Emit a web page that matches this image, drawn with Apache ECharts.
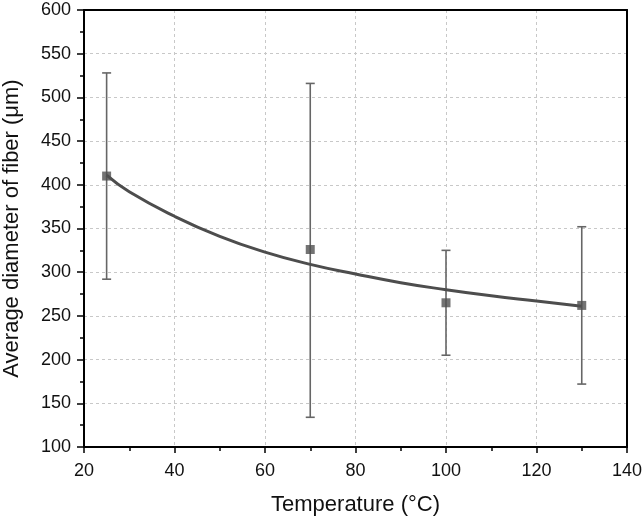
<!DOCTYPE html>
<html>
<head>
<meta charset="utf-8">
<script src="https://cdn.jsdelivr.net/npm/echarts@6/dist/echarts.min.js"></script>
<style>html,body{margin:0;padding:0;background:#fff}#c{width:644px;height:519px}</style>
</head>
<body>
<div id="c"></div>
<script>
// Measured points
const temps = [25, 70, 100, 130];
const meanDiam = [410, 326, 265, 262];
const errLow = [292, 134, 205, 172];
const errHigh = [528, 516, 325, 352];
// Fitted curve
const fitX = [25, 30, 40, 50, 60, 70, 80, 90, 100, 110, 120, 130];
const fitY = [411, 392, 364, 341, 323, 309, 298, 288, 280, 273, 267, 261];

const FONT = "'Liberation Sans', Arial, sans-serif";
const chart = echarts.init(document.getElementById('c'), null, {renderer: 'canvas'});

const errData = temps.map((t, i) => [t, errLow[i], errHigh[i]]);
const gridLine = {show: true, showMinLine: false, showMaxLine: false, lineStyle: {color: '#c8c8c8', width: 1, type: [3, 3]}};
const frameAxis = {
  axisLine: {show: true, onZero: false, lineStyle: {color: '#000', width: 2}},
  axisTick: {show: false}, axisLabel: {show: false}, splitLine: {show: false}
};

chart.setOption({
  backgroundColor: '#fff',
  animation: false,
  grid: {left: 84, right: 17, top: 10, bottom: 72, outerBoundsMode: 'none', containLabel: false},
  xAxis: [{
    type: 'value', min: 20, max: 140, interval: 20, position: 'bottom',
    name: 'Temperature (°C)', nameLocation: 'middle', nameGap: 47,
    nameTextStyle: {fontFamily: FONT, fontSize: 22, color: '#111'},
    axisLine: {show: true, onZero: false, lineStyle: {color: '#000', width: 2}},
    axisTick: {show: true, inside: false, length: 6, lineStyle: {color: '#000', width: 1.5}},
    minorTick: {show: true, splitNumber: 2, length: 4, lineStyle: {color: '#000', width: 1.5}},
    axisLabel: {fontFamily: FONT, fontSize: 18, color: '#111', margin: 15},
    splitLine: gridLine
  }, Object.assign({type: 'value', min: 20, max: 140, interval: 20, position: 'top'}, frameAxis)],
  yAxis: [{
    type: 'value', min: 100, max: 600, interval: 50, position: 'left',
    name: 'Average diameter of fiber (\u03bcm)', nameLocation: 'middle', nameGap: 61,
    nameTextStyle: {fontFamily: FONT, fontSize: 22, color: '#111'},
    axisLine: {show: true, onZero: false, lineStyle: {color: '#000', width: 2}},
    axisTick: {show: true, inside: false, length: 7, lineStyle: {color: '#000', width: 1.5}},
    minorTick: {show: true, splitNumber: 2, length: 4, lineStyle: {color: '#000', width: 1.5}},
    axisLabel: {fontFamily: FONT, fontSize: 18, color: '#111', margin: 13},
    splitLine: gridLine
  }, Object.assign({type: 'value', min: 100, max: 600, interval: 50, position: 'right'}, frameAxis)],
  series: [
    {
      type: 'custom',
      data: errData,
      z: 2,
      renderItem: function (params, api) {
        const x = api.value(0);
        const lo = api.coord([x, api.value(1)]);
        const hi = api.coord([x, api.value(2)]);
        const hw = 4.5;
        const style = {stroke: '#666', lineWidth: 1.6, fill: null};
        return {
          type: 'group',
          children: [
            {type: 'line', shape: {x1: lo[0], y1: lo[1], x2: hi[0], y2: hi[1]}, style: style},
            {type: 'line', shape: {x1: lo[0] - hw, y1: lo[1], x2: lo[0] + hw, y2: lo[1]}, style: style},
            {type: 'line', shape: {x1: hi[0] - hw, y1: hi[1], x2: hi[0] + hw, y2: hi[1]}, style: style}
          ]
        };
      }
    },
    {
      type: 'line',
      data: fitX.map((x, i) => [x, fitY[i]]),
      smooth: true,
      showSymbol: false,
      z: 3,
      lineStyle: {color: '#4d4d4d', width: 3}
    },
    {
      type: 'scatter',
      data: temps.map((t, i) => [t, meanDiam[i]]),
      symbol: 'rect',
      symbolSize: 9,
      z: 4,
      itemStyle: {color: '#505050'}
    }
  ]
});
</script>
</body>
</html>
